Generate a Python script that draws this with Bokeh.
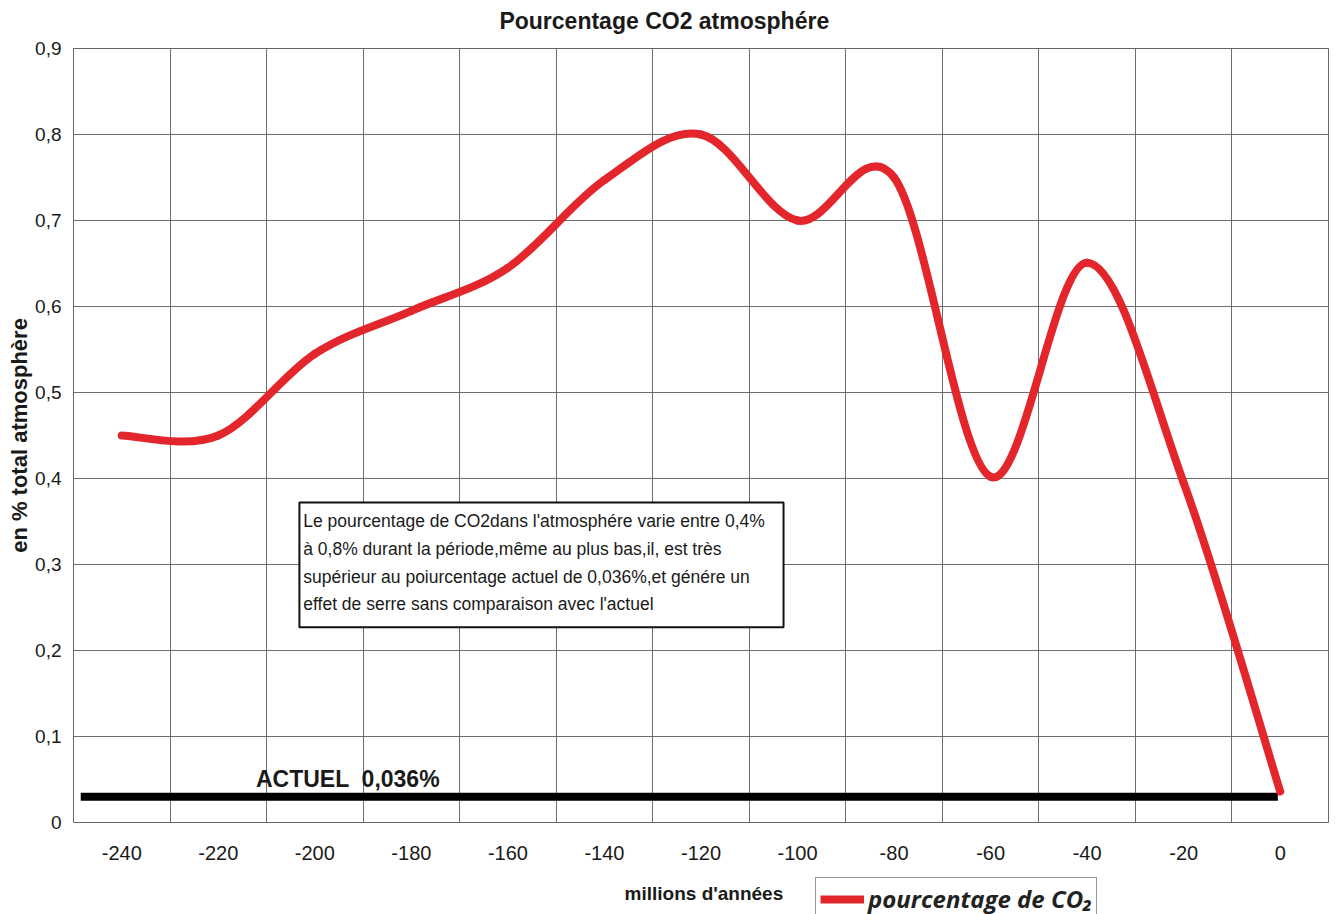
from bokeh.plotting import figure
from bokeh.layouts import column
from bokeh.models import (Range1d, FixedTicker, ColumnDataSource, Label, BoxAnnotation,
                          Legend, LegendItem)
from bokeh.embed import file_html
from bokeh.resources import INLINE

# ---- data ----
millions_annees = [-240, -220, -200, -180, -160, -140, -120, -100, -80, -60, -40, -20, 0]
pourcentage_co2 = [0.45, 0.45, 0.545, 0.595, 0.645, 0.747, 0.80, 0.70, 0.75, 0.402, 0.651, 0.395, 0.036]
actuel_x = [-248.5, -0.5]
actuel_y = [0.030, 0.030]
x_tick_values = [-240, -220, -200, -180, -160, -140, -120, -100, -80, -60, -40, -20, 0]
x_tick_labels = ["-240", "-220", "-200", "-180", "-160", "-140", "-120", "-100", "-80",
                 "-60", "-40", "-20", "0"]
x_grid_values = [-250, -230, -210, -190, -170, -150, -130, -110, -90, -70, -50, -30, -10, 10]
y_tick_values = [0, 0.1, 0.2, 0.3, 0.4, 0.5, 0.6, 0.7, 0.8, 0.9]
y_tick_labels = ["0", "0,1", "0,2", "0,3", "0,4", "0,5", "0,6", "0,7", "0,8", "0,9"]
note_lines = [
    "Le pourcentage de CO2dans l'atmosphére varie entre 0,4%",
    "à 0,8% durant la période,même au plus bas,il, est très",
    "supérieur au poiurcentage actuel de 0,036%,et génére un",
    "effet de serre sans comparaison avec l'actuel",
]

# smoothed (Excel-like) curve: bezier segments through the data points
n = len(millions_annees)
seg = dict(x0=[], y0=[], x1=[], y1=[], cx0=[], cy0=[], cx1=[], cy1=[])
for i in range(n - 1):
    a = i - 1 if i > 0 else i
    b = i + 2 if i + 2 < n else i + 1
    X, Y = millions_annees, pourcentage_co2
    seg["x0"].append(X[i]); seg["y0"].append(Y[i])
    seg["x1"].append(X[i + 1]); seg["y1"].append(Y[i + 1])
    seg["cx0"].append(X[i] + (X[i + 1] - X[a]) / 6.0)
    seg["cy0"].append(Y[i] + (Y[i + 1] - Y[a]) / 6.0)
    seg["cx1"].append(X[i + 1] - (X[b] - X[i]) / 6.0)
    seg["cy1"].append(Y[i + 1] - (Y[b] - Y[i]) / 6.0)
src = ColumnDataSource(seg)

FONT = "Liberation Sans"
TXT = "#1a1a1a"
RED = "#e3262b"

xr = Range1d(-250, 10)


def strip(height):
    f = figure(width=1336, height=height, output_backend="svg", toolbar_location=None,
               x_range=xr, y_range=Range1d(0, height),
               x_axis_type=None, y_axis_type=None,
               min_border_left=73, min_border_right=8, min_border_top=0, min_border_bottom=0,
               background_fill_color="white", border_fill_color="white")
    f.outline_line_color = None
    f.grid.visible = False
    return f


# ---- top strip: title ----
t = strip(36)
t.add_layout(Label(x=-127.6, y=16, text="Pourcentage CO2 atmosphére", text_font=FONT,
                   text_font_size="23px", text_font_style="bold", text_color=TXT,
                   text_align="center", text_baseline="middle"))

# ---- main plot ----
p = figure(width=1336, height=841, output_backend="svg", toolbar_location=None,
           x_range=xr, y_range=Range1d(0, 0.9),
           min_border_left=73, min_border_right=8, min_border_top=12, min_border_bottom=55,
           background_fill_color="white", border_fill_color="white")
p.outline_line_color = "#666666"
p.outline_line_width = 1

# grid
p.xgrid.ticker = FixedTicker(ticks=x_grid_values)
p.ygrid.ticker = FixedTicker(ticks=y_tick_values)
for g in (p.xgrid, p.ygrid):
    g.grid_line_color = "#5e5e5e"
    g.grid_line_width = 1
    g.grid_line_alpha = 0.9

# axes
p.xaxis.ticker = FixedTicker(ticks=x_tick_values)
p.xaxis.major_label_overrides = {v: s for v, s in zip(x_tick_values, x_tick_labels)}
p.xaxis.axis_line_color = None
p.xaxis.major_tick_line_color = None
p.xaxis.minor_tick_line_color = None
p.xaxis.major_label_standoff = 17
p.xaxis.major_label_text_font = FONT
p.xaxis.major_label_text_font_size = "20px"
p.xaxis.major_label_text_color = TXT

p.yaxis.ticker = FixedTicker(ticks=y_tick_values)
p.yaxis.major_label_overrides = {v: s for v, s in zip(y_tick_values, y_tick_labels)}
p.yaxis.axis_line_color = None
p.yaxis.major_tick_line_color = None
p.yaxis.major_tick_out = 0
p.yaxis.major_tick_in = 0
p.yaxis.minor_tick_line_color = None
p.yaxis.major_label_standoff = 12
p.yaxis.major_label_text_font = FONT
p.yaxis.major_label_text_font_size = "19px"
p.yaxis.major_label_text_color = TXT
p.yaxis.axis_label = "en % total atmosphère"
p.yaxis.axis_label_text_font = FONT
p.yaxis.axis_label_text_font_size = "22px"
p.yaxis.axis_label_text_font_style = "bold"
p.yaxis.axis_label_text_color = TXT
p.yaxis.axis_label_standoff = 0

# present-day level bar
p.line(actuel_x, actuel_y, line_color="black", line_width=8)

# CO2 curve
curve = p.bezier(x0="x0", y0="y0", x1="x1", y1="y1", cx0="cx0", cy0="cy0",
                 cx1="cx1", cy1="cy1", source=src, line_color=RED,
                 line_width=8, line_cap="round")

# "ACTUEL" label
p.add_layout(Label(x=-212.2, y=0.051, text="ACTUEL \u00a00,036%", text_font=FONT,
                   text_font_size="23px", text_font_style="bold", text_color=TXT,
                   text_baseline="alphabetic"))

# note box
p.add_layout(BoxAnnotation(left=-203.2, right=-102.9, bottom=0.227, top=0.372,
                           fill_color="white", fill_alpha=1.0,
                           line_color="#111111", line_width=2, line_alpha=1.0))
line_y = [0.351, 0.3186, 0.286, 0.2535]
for tx, yy in zip(note_lines, line_y):
    p.add_layout(Label(x=-202.4, y=yy, text=tx, text_font=FONT, text_font_size="17.5px",
                       text_color=TXT, text_baseline="middle", text_align="left"))

# ---- bottom strip: axis title + legend ----
q = strip(37)
q.add_layout(Label(x=-119.4, y=21, text="millions d'années", text_font=FONT,
                   text_font_size="19px", text_font_style="bold", text_color=TXT,
                   text_align="center", text_baseline="middle"))
legend_glyph = q.line([float("nan")], [float("nan")], line_color=RED, line_width=8)
legend = Legend(items=[LegendItem(label="pourcentage de CO₂", renderers=[legend_glyph])],
                location=(742, -6), orientation="vertical",
                label_text_font="Open Sans", label_text_font_style="bold italic",
                label_text_font_size="24px", label_text_color="#222222",
                glyph_width=44, glyph_height=30, label_height=30, label_standoff=4,
                padding=4, margin=0, spacing=0,
                border_line_color="#333333", border_line_width=1,
                background_fill_color="white", background_fill_alpha=1.0)
q.add_layout(legend, "center")

layout = column(t, p, q, spacing=0)
open("out.html", "w").write(file_html(layout, INLINE))
